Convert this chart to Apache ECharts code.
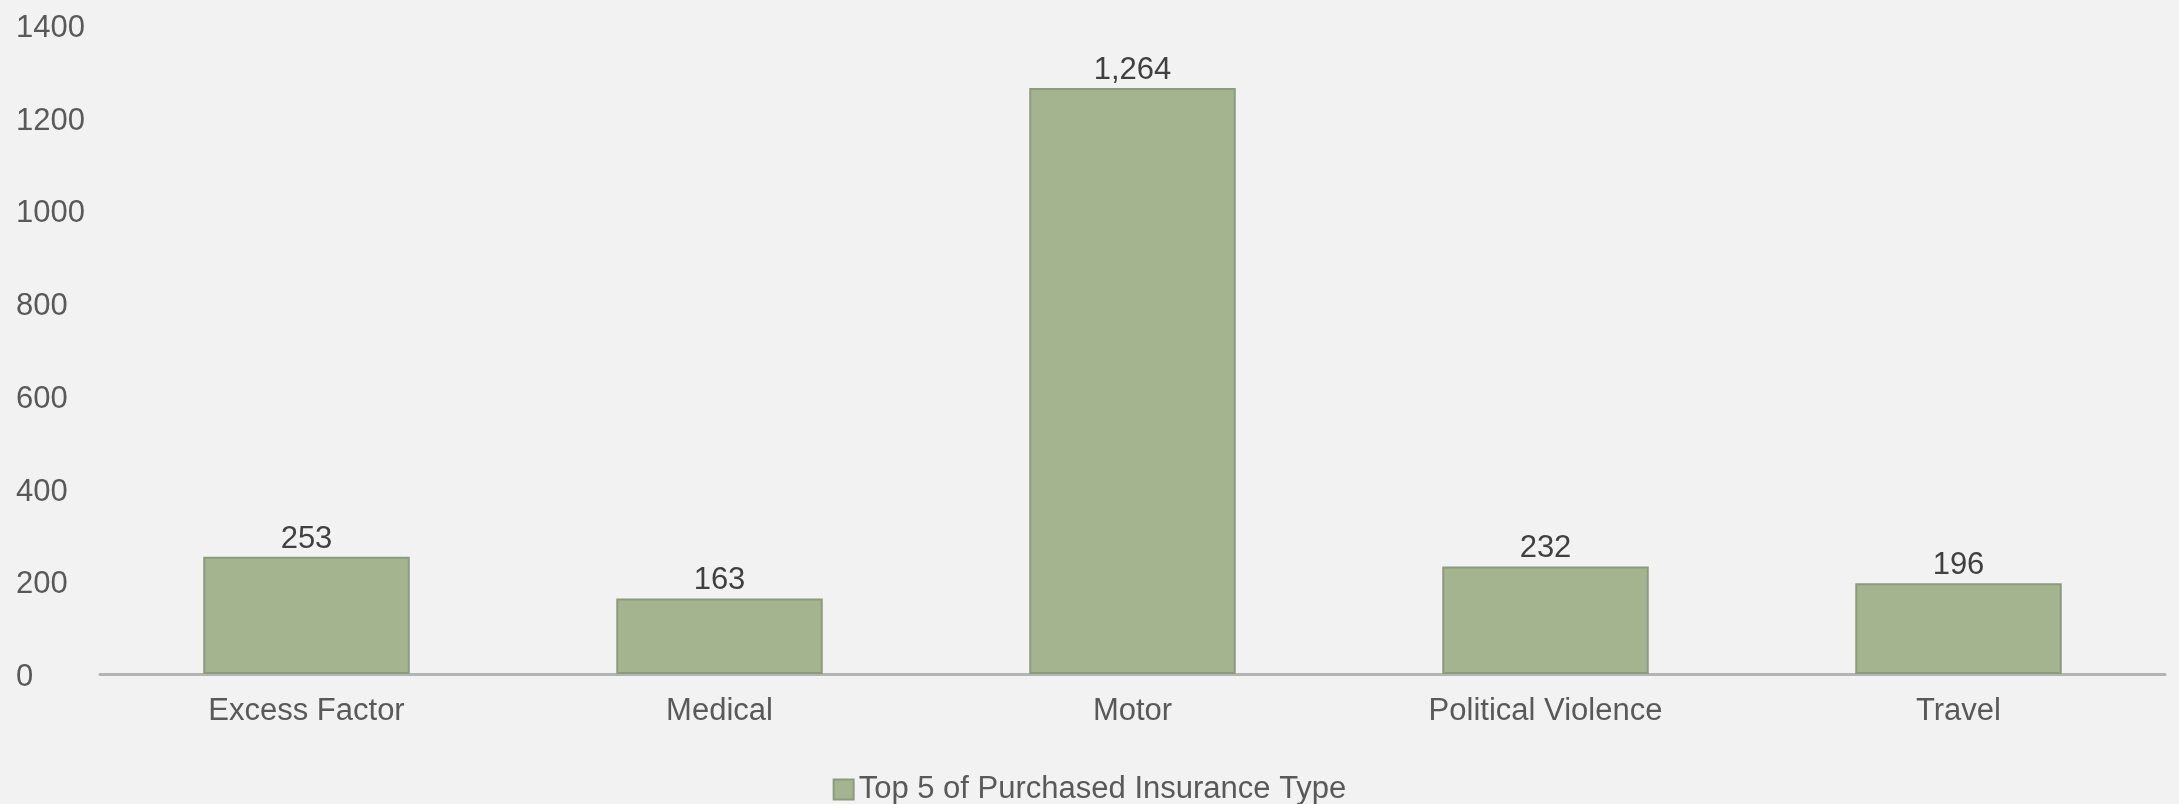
<!DOCTYPE html>
<html>
<head>
<meta charset="utf-8">
<script src="https://cdn.jsdelivr.net/npm/echarts@6/dist/echarts.min.js"></script>
<style>
html,body{margin:0;padding:0;background:#f2f2f2;}
#c{width:2179px;height:804px;}
</style>
</head>
<body>
<div id="c"></div>
<script>
const categories = ['Excess Factor', 'Medical', 'Motor', 'Political Violence', 'Travel'];
const values = [253, 163, 1264, 232, 196];
const seriesName = 'Top 5 of Purchased Insurance Type';
const yMin = 0, yMax = 1400, yInterval = 200;

const chart = echarts.init(document.getElementById('c'));
const font = '"Liberation Sans", Arial, sans-serif';
chart.setOption({
  backgroundColor: '#f2f2f2',
  animation: false,
  textStyle: {fontFamily: font},
  grid: {left: 100, right: 14, top: 25, bottom: 130},
  legend: {
    bottom: -6,
    left: 'center',
    itemWidth: 20,
    itemHeight: 20,
    itemGap: 10,
    textStyle: {fontSize: 31, color: '#595959', fontFamily: font},
    data: [{name: seriesName, icon: 'rect'}]
  },
  xAxis: {
    type: 'category',
    data: categories,
    axisLine: {show: true, lineStyle: {color: '#b4b4b4', width: 3}},
    axisTick: {show: false},
    axisLabel: {fontSize: 31, color: '#595959', margin: 22, fontFamily: font}
  },
  yAxis: {
    type: 'value',
    min: yMin, max: yMax, interval: yInterval,
    axisLine: {show: false},
    axisTick: {show: false},
    splitLine: {show: false},
    axisLabel: {fontSize: 31, color: '#595959', align: 'left', margin: 84, fontFamily: font,
      verticalAlign: 'top', lineHeight: 31, padding: [-12, 0, 0, 0], formatter: v => String(v)}
  },
  series: [{
    name: seriesName,
    type: 'bar',
    data: values,
    barWidth: '50%',
    itemStyle: {color: '#a4b48f', borderColor: '#8c9a7e', borderWidth: 2},
    label: {
      show: true, position: 'top', distance: 2,
      fontSize: 31, color: '#404040', fontFamily: font,
      formatter: p => p.value.toLocaleString('en-US')
    }
  }]
});
</script>
</body>
</html>
